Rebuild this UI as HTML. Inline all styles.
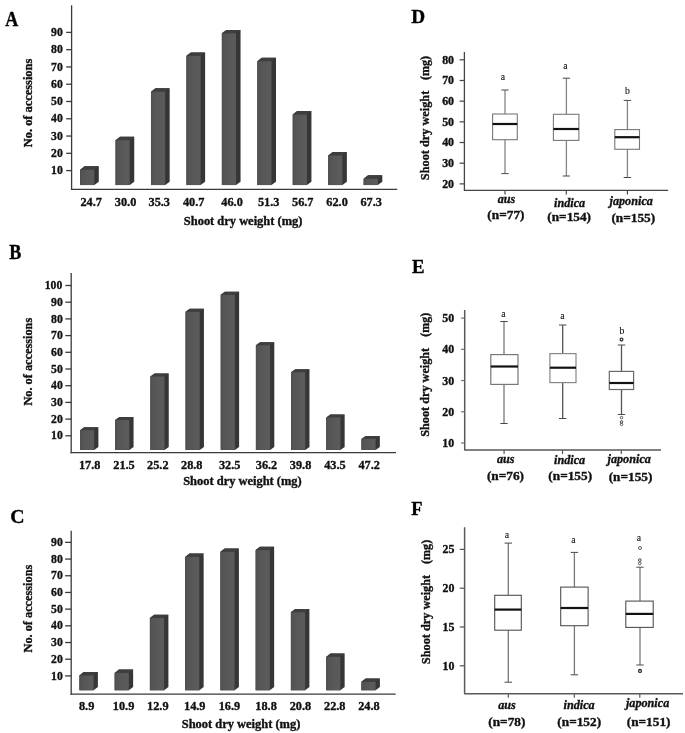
<!DOCTYPE html>
<html><head><meta charset="utf-8"><style>
html,body{margin:0;padding:0;background:#fff;width:685px;height:733px;overflow:hidden}
svg{display:block;will-change:transform}
</style></head><body>
<svg width="685" height="733" viewBox="0 0 685 733">
<defs><linearGradient id="fg" x1="0" y1="0" x2="1" y2="0"><stop offset="0" stop-color="#4f4f4f"/><stop offset="0.2" stop-color="#555"/><stop offset="0.5" stop-color="#585858"/><stop offset="0.85" stop-color="#5b5b5b"/><stop offset="1" stop-color="#595959"/></linearGradient></defs>
<rect width="685" height="733" fill="#fff"/>
<text x="0" y="0" transform="translate(5.37,25.70) scale(0.8735,1)" font-family="Liberation Serif" font-weight="bold" font-style="normal" font-size="20.61" fill="#000" stroke="#000" stroke-width="0.35" xml:space="preserve">A</text>
<line x1="71.60" y1="5.30" x2="71.60" y2="189.95" stroke="#3a3a3a" stroke-width="1.3"/>
<line x1="70.95" y1="189.30" x2="397.20" y2="189.30" stroke="#3a3a3a" stroke-width="1.3"/>
<line x1="66.20" y1="170.60" x2="71.60" y2="170.60" stroke="#3a3a3a" stroke-width="1.3"/>
<line x1="66.20" y1="153.32" x2="71.60" y2="153.32" stroke="#3a3a3a" stroke-width="1.3"/>
<line x1="66.20" y1="136.05" x2="71.60" y2="136.05" stroke="#3a3a3a" stroke-width="1.3"/>
<line x1="66.20" y1="118.78" x2="71.60" y2="118.78" stroke="#3a3a3a" stroke-width="1.3"/>
<line x1="66.20" y1="101.50" x2="71.60" y2="101.50" stroke="#3a3a3a" stroke-width="1.3"/>
<line x1="66.20" y1="84.22" x2="71.60" y2="84.22" stroke="#3a3a3a" stroke-width="1.3"/>
<line x1="66.20" y1="66.95" x2="71.60" y2="66.95" stroke="#3a3a3a" stroke-width="1.3"/>
<line x1="66.20" y1="49.68" x2="71.60" y2="49.68" stroke="#3a3a3a" stroke-width="1.3"/>
<line x1="66.20" y1="32.40" x2="71.60" y2="32.40" stroke="#3a3a3a" stroke-width="1.3"/>
<polygon points="80.10,169.70 84.60,166.30 98.80,166.30 98.80,181.70 94.30,185.10 80.10,185.10" fill="#363636"/>
<polygon points="80.10,169.70 84.60,166.30 98.80,166.30 94.30,169.70" fill="#3e3e3e"/>
<rect x="80.10" y="169.70" width="14.20" height="15.40" fill="url(#fg)"/>
<polygon points="115.54,140.20 120.04,136.80 134.24,136.80 134.24,181.70 129.74,185.10 115.54,185.10" fill="#363636"/>
<polygon points="115.54,140.20 120.04,136.80 134.24,136.80 129.74,140.20" fill="#3e3e3e"/>
<rect x="115.54" y="140.20" width="14.20" height="44.90" fill="url(#fg)"/>
<polygon points="150.98,91.70 155.48,88.30 169.68,88.30 169.68,181.70 165.18,185.10 150.98,185.10" fill="#363636"/>
<polygon points="150.98,91.70 155.48,88.30 169.68,88.30 165.18,91.70" fill="#3e3e3e"/>
<rect x="150.98" y="91.70" width="14.20" height="93.40" fill="url(#fg)"/>
<polygon points="186.42,55.80 190.92,52.40 205.12,52.40 205.12,181.70 200.62,185.10 186.42,185.10" fill="#363636"/>
<polygon points="186.42,55.80 190.92,52.40 205.12,52.40 200.62,55.80" fill="#3e3e3e"/>
<rect x="186.42" y="55.80" width="14.20" height="129.30" fill="url(#fg)"/>
<polygon points="221.86,33.30 226.36,29.90 240.56,29.90 240.56,181.70 236.06,185.10 221.86,185.10" fill="#363636"/>
<polygon points="221.86,33.30 226.36,29.90 240.56,29.90 236.06,33.30" fill="#3e3e3e"/>
<rect x="221.86" y="33.30" width="14.20" height="151.80" fill="url(#fg)"/>
<polygon points="257.30,61.20 261.80,57.80 276.00,57.80 276.00,181.70 271.50,185.10 257.30,185.10" fill="#363636"/>
<polygon points="257.30,61.20 261.80,57.80 276.00,57.80 271.50,61.20" fill="#3e3e3e"/>
<rect x="257.30" y="61.20" width="14.20" height="123.90" fill="url(#fg)"/>
<polygon points="292.74,114.50 297.24,111.10 311.44,111.10 311.44,181.70 306.94,185.10 292.74,185.10" fill="#363636"/>
<polygon points="292.74,114.50 297.24,111.10 311.44,111.10 306.94,114.50" fill="#3e3e3e"/>
<rect x="292.74" y="114.50" width="14.20" height="70.60" fill="url(#fg)"/>
<polygon points="328.18,155.50 332.68,152.10 346.88,152.10 346.88,181.70 342.38,185.10 328.18,185.10" fill="#363636"/>
<polygon points="328.18,155.50 332.68,152.10 346.88,152.10 342.38,155.50" fill="#3e3e3e"/>
<rect x="328.18" y="155.50" width="14.20" height="29.60" fill="url(#fg)"/>
<polygon points="363.62,178.70 368.12,175.30 382.32,175.30 382.32,181.70 377.82,185.10 363.62,185.10" fill="#363636"/>
<polygon points="363.62,178.70 368.12,175.30 382.32,175.30 377.82,178.70" fill="#3e3e3e"/>
<rect x="363.62" y="178.70" width="14.20" height="6.40" fill="url(#fg)"/>
<text x="0" y="0" transform="translate(51.12,174.23) scale(0.9000,1)" font-family="Liberation Serif" font-weight="bold" font-style="normal" font-size="13.00" fill="#111" stroke="#111" stroke-width="0.35" xml:space="preserve">10</text>
<text x="0" y="0" transform="translate(51.12,156.95) scale(0.9000,1)" font-family="Liberation Serif" font-weight="bold" font-style="normal" font-size="13.00" fill="#111" stroke="#111" stroke-width="0.35" xml:space="preserve">20</text>
<text x="0" y="0" transform="translate(51.12,139.68) scale(0.9000,1)" font-family="Liberation Serif" font-weight="bold" font-style="normal" font-size="13.00" fill="#111" stroke="#111" stroke-width="0.35" xml:space="preserve">30</text>
<text x="0" y="0" transform="translate(51.12,122.40) scale(0.9000,1)" font-family="Liberation Serif" font-weight="bold" font-style="normal" font-size="13.00" fill="#111" stroke="#111" stroke-width="0.35" xml:space="preserve">40</text>
<text x="0" y="0" transform="translate(51.12,105.12) scale(0.9000,1)" font-family="Liberation Serif" font-weight="bold" font-style="normal" font-size="13.00" fill="#111" stroke="#111" stroke-width="0.35" xml:space="preserve">50</text>
<text x="0" y="0" transform="translate(51.12,87.85) scale(0.9000,1)" font-family="Liberation Serif" font-weight="bold" font-style="normal" font-size="13.00" fill="#111" stroke="#111" stroke-width="0.35" xml:space="preserve">60</text>
<text x="0" y="0" transform="translate(51.12,70.58) scale(0.9000,1)" font-family="Liberation Serif" font-weight="bold" font-style="normal" font-size="13.00" fill="#111" stroke="#111" stroke-width="0.35" xml:space="preserve">70</text>
<text x="0" y="0" transform="translate(51.12,53.30) scale(0.9000,1)" font-family="Liberation Serif" font-weight="bold" font-style="normal" font-size="13.00" fill="#111" stroke="#111" stroke-width="0.35" xml:space="preserve">80</text>
<text x="0" y="0" transform="translate(51.12,36.03) scale(0.9000,1)" font-family="Liberation Serif" font-weight="bold" font-style="normal" font-size="13.00" fill="#111" stroke="#111" stroke-width="0.35" xml:space="preserve">90</text>
<text x="0" y="0" transform="translate(80.48,206.46) scale(0.9600,1)" font-family="Liberation Serif" font-weight="bold" font-style="normal" font-size="12.80" fill="#111" stroke="#111" stroke-width="0.35" xml:space="preserve">24.7</text>
<text x="0" y="0" transform="translate(114.85,206.46) scale(0.9600,1)" font-family="Liberation Serif" font-weight="bold" font-style="normal" font-size="12.80" fill="#111" stroke="#111" stroke-width="0.35" xml:space="preserve">30.0</text>
<text x="0" y="0" transform="translate(148.49,206.46) scale(0.9600,1)" font-family="Liberation Serif" font-weight="bold" font-style="normal" font-size="12.80" fill="#111" stroke="#111" stroke-width="0.35" xml:space="preserve">35.3</text>
<text x="0" y="0" transform="translate(182.91,206.46) scale(0.9600,1)" font-family="Liberation Serif" font-weight="bold" font-style="normal" font-size="12.80" fill="#111" stroke="#111" stroke-width="0.35" xml:space="preserve">40.7</text>
<text x="0" y="0" transform="translate(221.33,206.46) scale(0.9600,1)" font-family="Liberation Serif" font-weight="bold" font-style="normal" font-size="12.80" fill="#111" stroke="#111" stroke-width="0.35" xml:space="preserve">46.0</text>
<text x="0" y="0" transform="translate(257.89,206.46) scale(0.9600,1)" font-family="Liberation Serif" font-weight="bold" font-style="normal" font-size="12.80" fill="#111" stroke="#111" stroke-width="0.35" xml:space="preserve">51.3</text>
<text x="0" y="0" transform="translate(292.03,206.46) scale(0.9600,1)" font-family="Liberation Serif" font-weight="bold" font-style="normal" font-size="12.80" fill="#111" stroke="#111" stroke-width="0.35" xml:space="preserve">56.7</text>
<text x="0" y="0" transform="translate(326.31,206.46) scale(0.9600,1)" font-family="Liberation Serif" font-weight="bold" font-style="normal" font-size="12.80" fill="#111" stroke="#111" stroke-width="0.35" xml:space="preserve">62.0</text>
<text x="0" y="0" transform="translate(360.45,206.46) scale(0.9600,1)" font-family="Liberation Serif" font-weight="bold" font-style="normal" font-size="12.80" fill="#111" stroke="#111" stroke-width="0.35" xml:space="preserve">67.3</text>
<text x="0" y="0" transform="translate(183.81,224.75) scale(1.0300,1)" font-family="Liberation Serif" font-weight="bold" font-style="normal" font-size="12.10" fill="#111" stroke="#111" stroke-width="0.35" xml:space="preserve">Shoot dry weight (mg)</text>
<text x="0" y="0" transform="translate(32.49,147.20) rotate(-90) scale(1.0880,1)" font-family="Liberation Serif" font-weight="bold" font-style="normal" font-size="11.41" fill="#111" stroke="#111" stroke-width="0.35" xml:space="preserve">No. of accessions</text>
<text x="0" y="0" transform="translate(9.29,259.30) scale(0.8763,1)" font-family="Liberation Serif" font-weight="bold" font-style="normal" font-size="20.62" fill="#000" stroke="#000" stroke-width="0.35" xml:space="preserve">B</text>
<line x1="71.20" y1="273.00" x2="71.20" y2="453.25" stroke="#3a3a3a" stroke-width="1.3"/>
<line x1="70.55" y1="452.60" x2="396.00" y2="452.60" stroke="#3a3a3a" stroke-width="1.3"/>
<line x1="65.30" y1="435.80" x2="71.20" y2="435.80" stroke="#3a3a3a" stroke-width="1.3"/>
<line x1="65.30" y1="419.10" x2="71.20" y2="419.10" stroke="#3a3a3a" stroke-width="1.3"/>
<line x1="65.30" y1="402.40" x2="71.20" y2="402.40" stroke="#3a3a3a" stroke-width="1.3"/>
<line x1="65.30" y1="385.70" x2="71.20" y2="385.70" stroke="#3a3a3a" stroke-width="1.3"/>
<line x1="65.30" y1="369.00" x2="71.20" y2="369.00" stroke="#3a3a3a" stroke-width="1.3"/>
<line x1="65.30" y1="352.30" x2="71.20" y2="352.30" stroke="#3a3a3a" stroke-width="1.3"/>
<line x1="65.30" y1="335.60" x2="71.20" y2="335.60" stroke="#3a3a3a" stroke-width="1.3"/>
<line x1="65.30" y1="318.90" x2="71.20" y2="318.90" stroke="#3a3a3a" stroke-width="1.3"/>
<line x1="65.30" y1="302.20" x2="71.20" y2="302.20" stroke="#3a3a3a" stroke-width="1.3"/>
<line x1="65.30" y1="285.50" x2="71.20" y2="285.50" stroke="#3a3a3a" stroke-width="1.3"/>
<polygon points="80.00,430.20 84.20,427.20 98.40,427.20 98.40,446.90 94.20,449.90 80.00,449.90" fill="#363636"/>
<polygon points="80.00,430.20 84.20,427.20 98.40,427.20 94.20,430.20" fill="#3e3e3e"/>
<rect x="80.00" y="430.20" width="14.20" height="19.70" fill="url(#fg)"/>
<polygon points="115.18,420.00 119.38,417.00 133.58,417.00 133.58,446.90 129.38,449.90 115.18,449.90" fill="#363636"/>
<polygon points="115.18,420.00 119.38,417.00 133.58,417.00 129.38,420.00" fill="#3e3e3e"/>
<rect x="115.18" y="420.00" width="14.20" height="29.90" fill="url(#fg)"/>
<polygon points="150.36,376.50 154.56,373.50 168.76,373.50 168.76,446.90 164.56,449.90 150.36,449.90" fill="#363636"/>
<polygon points="150.36,376.50 154.56,373.50 168.76,373.50 164.56,376.50" fill="#3e3e3e"/>
<rect x="150.36" y="376.50" width="14.20" height="73.40" fill="url(#fg)"/>
<polygon points="185.54,311.80 189.74,308.80 203.94,308.80 203.94,446.90 199.74,449.90 185.54,449.90" fill="#363636"/>
<polygon points="185.54,311.80 189.74,308.80 203.94,308.80 199.74,311.80" fill="#3e3e3e"/>
<rect x="185.54" y="311.80" width="14.20" height="138.10" fill="url(#fg)"/>
<polygon points="220.72,294.80 224.92,291.80 239.12,291.80 239.12,446.90 234.92,449.90 220.72,449.90" fill="#363636"/>
<polygon points="220.72,294.80 224.92,291.80 239.12,291.80 234.92,294.80" fill="#3e3e3e"/>
<rect x="220.72" y="294.80" width="14.20" height="155.10" fill="url(#fg)"/>
<polygon points="255.90,345.30 260.10,342.30 274.30,342.30 274.30,446.90 270.10,449.90 255.90,449.90" fill="#363636"/>
<polygon points="255.90,345.30 260.10,342.30 274.30,342.30 270.10,345.30" fill="#3e3e3e"/>
<rect x="255.90" y="345.30" width="14.20" height="104.60" fill="url(#fg)"/>
<polygon points="291.08,372.20 295.28,369.20 309.48,369.20 309.48,446.90 305.28,449.90 291.08,449.90" fill="#363636"/>
<polygon points="291.08,372.20 295.28,369.20 309.48,369.20 305.28,372.20" fill="#3e3e3e"/>
<rect x="291.08" y="372.20" width="14.20" height="77.70" fill="url(#fg)"/>
<polygon points="326.26,417.40 330.46,414.40 344.66,414.40 344.66,446.90 340.46,449.90 326.26,449.90" fill="#363636"/>
<polygon points="326.26,417.40 330.46,414.40 344.66,414.40 340.46,417.40" fill="#3e3e3e"/>
<rect x="326.26" y="417.40" width="14.20" height="32.50" fill="url(#fg)"/>
<polygon points="361.44,438.90 365.64,435.90 379.84,435.90 379.84,446.90 375.64,449.90 361.44,449.90" fill="#363636"/>
<polygon points="361.44,438.90 365.64,435.90 379.84,435.90 375.64,438.90" fill="#3e3e3e"/>
<rect x="361.44" y="438.90" width="14.20" height="11.00" fill="url(#fg)"/>
<text x="0" y="0" transform="translate(51.12,439.43) scale(0.9000,1)" font-family="Liberation Serif" font-weight="bold" font-style="normal" font-size="13.00" fill="#111" stroke="#111" stroke-width="0.35" xml:space="preserve">10</text>
<text x="0" y="0" transform="translate(51.12,422.72) scale(0.9000,1)" font-family="Liberation Serif" font-weight="bold" font-style="normal" font-size="13.00" fill="#111" stroke="#111" stroke-width="0.35" xml:space="preserve">20</text>
<text x="0" y="0" transform="translate(51.12,406.03) scale(0.9000,1)" font-family="Liberation Serif" font-weight="bold" font-style="normal" font-size="13.00" fill="#111" stroke="#111" stroke-width="0.35" xml:space="preserve">30</text>
<text x="0" y="0" transform="translate(51.12,389.32) scale(0.9000,1)" font-family="Liberation Serif" font-weight="bold" font-style="normal" font-size="13.00" fill="#111" stroke="#111" stroke-width="0.35" xml:space="preserve">40</text>
<text x="0" y="0" transform="translate(51.12,372.62) scale(0.9000,1)" font-family="Liberation Serif" font-weight="bold" font-style="normal" font-size="13.00" fill="#111" stroke="#111" stroke-width="0.35" xml:space="preserve">50</text>
<text x="0" y="0" transform="translate(51.12,355.93) scale(0.9000,1)" font-family="Liberation Serif" font-weight="bold" font-style="normal" font-size="13.00" fill="#111" stroke="#111" stroke-width="0.35" xml:space="preserve">60</text>
<text x="0" y="0" transform="translate(51.12,339.22) scale(0.9000,1)" font-family="Liberation Serif" font-weight="bold" font-style="normal" font-size="13.00" fill="#111" stroke="#111" stroke-width="0.35" xml:space="preserve">70</text>
<text x="0" y="0" transform="translate(51.12,322.53) scale(0.9000,1)" font-family="Liberation Serif" font-weight="bold" font-style="normal" font-size="13.00" fill="#111" stroke="#111" stroke-width="0.35" xml:space="preserve">80</text>
<text x="0" y="0" transform="translate(51.12,305.82) scale(0.9000,1)" font-family="Liberation Serif" font-weight="bold" font-style="normal" font-size="13.00" fill="#111" stroke="#111" stroke-width="0.35" xml:space="preserve">90</text>
<text x="0" y="0" transform="translate(44.77,289.12) scale(0.9000,1)" font-family="Liberation Serif" font-weight="bold" font-style="normal" font-size="13.00" fill="#111" stroke="#111" stroke-width="0.35" xml:space="preserve">100</text>
<text x="0" y="0" transform="translate(78.94,468.51) scale(0.9600,1)" font-family="Liberation Serif" font-weight="bold" font-style="normal" font-size="12.80" fill="#111" stroke="#111" stroke-width="0.35" xml:space="preserve">17.8</text>
<text x="0" y="0" transform="translate(113.25,468.51) scale(0.9600,1)" font-family="Liberation Serif" font-weight="bold" font-style="normal" font-size="12.80" fill="#111" stroke="#111" stroke-width="0.35" xml:space="preserve">21.5</text>
<text x="0" y="0" transform="translate(147.05,468.51) scale(0.9600,1)" font-family="Liberation Serif" font-weight="bold" font-style="normal" font-size="12.80" fill="#111" stroke="#111" stroke-width="0.35" xml:space="preserve">25.2</text>
<text x="0" y="0" transform="translate(180.99,468.51) scale(0.9600,1)" font-family="Liberation Serif" font-weight="bold" font-style="normal" font-size="12.80" fill="#111" stroke="#111" stroke-width="0.35" xml:space="preserve">28.8</text>
<text x="0" y="0" transform="translate(218.95,468.51) scale(0.9600,1)" font-family="Liberation Serif" font-weight="bold" font-style="normal" font-size="12.80" fill="#111" stroke="#111" stroke-width="0.35" xml:space="preserve">32.5</text>
<text x="0" y="0" transform="translate(255.75,468.51) scale(0.9600,1)" font-family="Liberation Serif" font-weight="bold" font-style="normal" font-size="12.80" fill="#111" stroke="#111" stroke-width="0.35" xml:space="preserve">36.2</text>
<text x="0" y="0" transform="translate(289.79,468.51) scale(0.9600,1)" font-family="Liberation Serif" font-weight="bold" font-style="normal" font-size="12.80" fill="#111" stroke="#111" stroke-width="0.35" xml:space="preserve">39.8</text>
<text x="0" y="0" transform="translate(324.23,468.51) scale(0.9600,1)" font-family="Liberation Serif" font-weight="bold" font-style="normal" font-size="12.80" fill="#111" stroke="#111" stroke-width="0.35" xml:space="preserve">43.5</text>
<text x="0" y="0" transform="translate(358.43,468.51) scale(0.9600,1)" font-family="Liberation Serif" font-weight="bold" font-style="normal" font-size="12.80" fill="#111" stroke="#111" stroke-width="0.35" xml:space="preserve">47.2</text>
<text x="0" y="0" transform="translate(183.16,484.80) scale(1.0300,1)" font-family="Liberation Serif" font-weight="bold" font-style="normal" font-size="12.10" fill="#111" stroke="#111" stroke-width="0.35" xml:space="preserve">Shoot dry weight (mg)</text>
<text x="0" y="0" transform="translate(31.58,405.60) rotate(-90) scale(1.0297,1)" font-family="Liberation Serif" font-weight="bold" font-style="normal" font-size="11.97" fill="#111" stroke="#111" stroke-width="0.35" xml:space="preserve">No. of accessions</text>
<text x="0" y="0" transform="translate(10.36,522.51) scale(1.0222,1)" font-family="Liberation Serif" font-weight="bold" font-style="normal" font-size="19.40" fill="#000" stroke="#000" stroke-width="0.35" xml:space="preserve">C</text>
<line x1="71.20" y1="530.70" x2="71.20" y2="694.85" stroke="#3a3a3a" stroke-width="1.3"/>
<line x1="70.55" y1="694.20" x2="395.70" y2="694.20" stroke="#3a3a3a" stroke-width="1.3"/>
<line x1="65.10" y1="675.90" x2="71.20" y2="675.90" stroke="#3a3a3a" stroke-width="1.3"/>
<line x1="65.10" y1="659.21" x2="71.20" y2="659.21" stroke="#3a3a3a" stroke-width="1.3"/>
<line x1="65.10" y1="642.52" x2="71.20" y2="642.52" stroke="#3a3a3a" stroke-width="1.3"/>
<line x1="65.10" y1="625.83" x2="71.20" y2="625.83" stroke="#3a3a3a" stroke-width="1.3"/>
<line x1="65.10" y1="609.14" x2="71.20" y2="609.14" stroke="#3a3a3a" stroke-width="1.3"/>
<line x1="65.10" y1="592.45" x2="71.20" y2="592.45" stroke="#3a3a3a" stroke-width="1.3"/>
<line x1="65.10" y1="575.76" x2="71.20" y2="575.76" stroke="#3a3a3a" stroke-width="1.3"/>
<line x1="65.10" y1="559.07" x2="71.20" y2="559.07" stroke="#3a3a3a" stroke-width="1.3"/>
<line x1="65.10" y1="542.38" x2="71.20" y2="542.38" stroke="#3a3a3a" stroke-width="1.3"/>
<polygon points="79.40,675.40 83.70,672.00 97.90,672.00 97.90,686.90 93.60,690.30 79.40,690.30" fill="#363636"/>
<polygon points="79.40,675.40 83.70,672.00 97.90,672.00 93.60,675.40" fill="#3e3e3e"/>
<rect x="79.40" y="675.40" width="14.20" height="14.90" fill="url(#fg)"/>
<polygon points="114.65,673.00 118.95,669.60 133.15,669.60 133.15,686.90 128.85,690.30 114.65,690.30" fill="#363636"/>
<polygon points="114.65,673.00 118.95,669.60 133.15,669.60 128.85,673.00" fill="#3e3e3e"/>
<rect x="114.65" y="673.00" width="14.20" height="17.30" fill="url(#fg)"/>
<polygon points="149.90,618.10 154.20,614.70 168.40,614.70 168.40,686.90 164.10,690.30 149.90,690.30" fill="#363636"/>
<polygon points="149.90,618.10 154.20,614.70 168.40,614.70 164.10,618.10" fill="#3e3e3e"/>
<rect x="149.90" y="618.10" width="14.20" height="72.20" fill="url(#fg)"/>
<polygon points="185.15,556.90 189.45,553.50 203.65,553.50 203.65,686.90 199.35,690.30 185.15,690.30" fill="#363636"/>
<polygon points="185.15,556.90 189.45,553.50 203.65,553.50 199.35,556.90" fill="#3e3e3e"/>
<rect x="185.15" y="556.90" width="14.20" height="133.40" fill="url(#fg)"/>
<polygon points="220.40,551.80 224.70,548.40 238.90,548.40 238.90,686.90 234.60,690.30 220.40,690.30" fill="#363636"/>
<polygon points="220.40,551.80 224.70,548.40 238.90,548.40 234.60,551.80" fill="#3e3e3e"/>
<rect x="220.40" y="551.80" width="14.20" height="138.50" fill="url(#fg)"/>
<polygon points="255.65,550.10 259.95,546.70 274.15,546.70 274.15,686.90 269.85,690.30 255.65,690.30" fill="#363636"/>
<polygon points="255.65,550.10 259.95,546.70 274.15,546.70 269.85,550.10" fill="#3e3e3e"/>
<rect x="255.65" y="550.10" width="14.20" height="140.20" fill="url(#fg)"/>
<polygon points="290.90,612.30 295.20,608.90 309.40,608.90 309.40,686.90 305.10,690.30 290.90,690.30" fill="#363636"/>
<polygon points="290.90,612.30 295.20,608.90 309.40,608.90 305.10,612.30" fill="#3e3e3e"/>
<rect x="290.90" y="612.30" width="14.20" height="78.00" fill="url(#fg)"/>
<polygon points="326.15,656.90 330.45,653.50 344.65,653.50 344.65,686.90 340.35,690.30 326.15,690.30" fill="#363636"/>
<polygon points="326.15,656.90 330.45,653.50 344.65,653.50 340.35,656.90" fill="#3e3e3e"/>
<rect x="326.15" y="656.90" width="14.20" height="33.40" fill="url(#fg)"/>
<polygon points="361.40,681.80 365.70,678.40 379.90,678.40 379.90,686.90 375.60,690.30 361.40,690.30" fill="#363636"/>
<polygon points="361.40,681.80 365.70,678.40 379.90,678.40 375.60,681.80" fill="#3e3e3e"/>
<rect x="361.40" y="681.80" width="14.20" height="8.50" fill="url(#fg)"/>
<text x="0" y="0" transform="translate(51.12,679.52) scale(0.9000,1)" font-family="Liberation Serif" font-weight="bold" font-style="normal" font-size="13.00" fill="#111" stroke="#111" stroke-width="0.35" xml:space="preserve">10</text>
<text x="0" y="0" transform="translate(51.12,662.83) scale(0.9000,1)" font-family="Liberation Serif" font-weight="bold" font-style="normal" font-size="13.00" fill="#111" stroke="#111" stroke-width="0.35" xml:space="preserve">20</text>
<text x="0" y="0" transform="translate(51.12,646.15) scale(0.9000,1)" font-family="Liberation Serif" font-weight="bold" font-style="normal" font-size="13.00" fill="#111" stroke="#111" stroke-width="0.35" xml:space="preserve">30</text>
<text x="0" y="0" transform="translate(51.12,629.46) scale(0.9000,1)" font-family="Liberation Serif" font-weight="bold" font-style="normal" font-size="13.00" fill="#111" stroke="#111" stroke-width="0.35" xml:space="preserve">40</text>
<text x="0" y="0" transform="translate(51.12,612.76) scale(0.9000,1)" font-family="Liberation Serif" font-weight="bold" font-style="normal" font-size="13.00" fill="#111" stroke="#111" stroke-width="0.35" xml:space="preserve">50</text>
<text x="0" y="0" transform="translate(51.12,596.07) scale(0.9000,1)" font-family="Liberation Serif" font-weight="bold" font-style="normal" font-size="13.00" fill="#111" stroke="#111" stroke-width="0.35" xml:space="preserve">60</text>
<text x="0" y="0" transform="translate(51.12,579.39) scale(0.9000,1)" font-family="Liberation Serif" font-weight="bold" font-style="normal" font-size="13.00" fill="#111" stroke="#111" stroke-width="0.35" xml:space="preserve">70</text>
<text x="0" y="0" transform="translate(51.12,562.70) scale(0.9000,1)" font-family="Liberation Serif" font-weight="bold" font-style="normal" font-size="13.00" fill="#111" stroke="#111" stroke-width="0.35" xml:space="preserve">80</text>
<text x="0" y="0" transform="translate(51.12,546.00) scale(0.9000,1)" font-family="Liberation Serif" font-weight="bold" font-style="normal" font-size="13.00" fill="#111" stroke="#111" stroke-width="0.35" xml:space="preserve">90</text>
<text x="0" y="0" transform="translate(78.93,710.06) scale(0.9600,1)" font-family="Liberation Serif" font-weight="bold" font-style="normal" font-size="12.80" fill="#111" stroke="#111" stroke-width="0.35" xml:space="preserve">8.9</text>
<text x="0" y="0" transform="translate(112.85,710.06) scale(0.9600,1)" font-family="Liberation Serif" font-weight="bold" font-style="normal" font-size="12.80" fill="#111" stroke="#111" stroke-width="0.35" xml:space="preserve">10.9</text>
<text x="0" y="0" transform="translate(147.10,710.06) scale(0.9600,1)" font-family="Liberation Serif" font-weight="bold" font-style="normal" font-size="12.80" fill="#111" stroke="#111" stroke-width="0.35" xml:space="preserve">12.9</text>
<text x="0" y="0" transform="translate(184.00,710.06) scale(0.9600,1)" font-family="Liberation Serif" font-weight="bold" font-style="normal" font-size="12.80" fill="#111" stroke="#111" stroke-width="0.35" xml:space="preserve">14.9</text>
<text x="0" y="0" transform="translate(218.70,710.06) scale(0.9600,1)" font-family="Liberation Serif" font-weight="bold" font-style="normal" font-size="12.80" fill="#111" stroke="#111" stroke-width="0.35" xml:space="preserve">16.9</text>
<text x="0" y="0" transform="translate(255.34,710.06) scale(0.9600,1)" font-family="Liberation Serif" font-weight="bold" font-style="normal" font-size="12.80" fill="#111" stroke="#111" stroke-width="0.35" xml:space="preserve">18.8</text>
<text x="0" y="0" transform="translate(289.69,710.06) scale(0.9600,1)" font-family="Liberation Serif" font-weight="bold" font-style="normal" font-size="12.80" fill="#111" stroke="#111" stroke-width="0.35" xml:space="preserve">20.8</text>
<text x="0" y="0" transform="translate(323.99,710.06) scale(0.9600,1)" font-family="Liberation Serif" font-weight="bold" font-style="normal" font-size="12.80" fill="#111" stroke="#111" stroke-width="0.35" xml:space="preserve">22.8</text>
<text x="0" y="0" transform="translate(358.19,710.06) scale(0.9600,1)" font-family="Liberation Serif" font-weight="bold" font-style="normal" font-size="12.80" fill="#111" stroke="#111" stroke-width="0.35" xml:space="preserve">24.8</text>
<text x="0" y="0" transform="translate(181.76,728.20) scale(1.0300,1)" font-family="Liberation Serif" font-weight="bold" font-style="normal" font-size="12.10" fill="#111" stroke="#111" stroke-width="0.35" xml:space="preserve">Shoot dry weight (mg)</text>
<text x="0" y="0" transform="translate(31.58,652.50) rotate(-90) scale(1.0049,1)" font-family="Liberation Serif" font-weight="bold" font-style="normal" font-size="12.25" fill="#111" stroke="#111" stroke-width="0.35" xml:space="preserve">No. of accessions</text>
<text x="0" y="0" transform="translate(411.17,22.70) scale(0.9843,1)" font-family="Liberation Serif" font-weight="bold" font-style="normal" font-size="19.54" fill="#000" stroke="#000" stroke-width="0.35" xml:space="preserve">D</text>
<polyline points="464.40,52.00 464.40,190.40 668.20,190.40" fill="none" stroke="#454545" stroke-width="1.3" stroke-linejoin="round"/>
<line x1="459.60" y1="59.80" x2="464.40" y2="59.80" stroke="#454545" stroke-width="1.2"/>
<text x="0" y="0" transform="translate(442.13,63.77) scale(1.0000,1)" font-family="Liberation Serif" font-weight="bold" font-style="normal" font-size="11.90" fill="#111" stroke="#111" stroke-width="0.35" xml:space="preserve">80</text>
<line x1="459.60" y1="80.48" x2="464.40" y2="80.48" stroke="#454545" stroke-width="1.2"/>
<text x="0" y="0" transform="translate(442.13,84.45) scale(1.0000,1)" font-family="Liberation Serif" font-weight="bold" font-style="normal" font-size="11.90" fill="#111" stroke="#111" stroke-width="0.35" xml:space="preserve">70</text>
<line x1="459.60" y1="101.16" x2="464.40" y2="101.16" stroke="#454545" stroke-width="1.2"/>
<text x="0" y="0" transform="translate(442.13,105.13) scale(1.0000,1)" font-family="Liberation Serif" font-weight="bold" font-style="normal" font-size="11.90" fill="#111" stroke="#111" stroke-width="0.35" xml:space="preserve">60</text>
<line x1="459.60" y1="121.84" x2="464.40" y2="121.84" stroke="#454545" stroke-width="1.2"/>
<text x="0" y="0" transform="translate(442.13,125.81) scale(1.0000,1)" font-family="Liberation Serif" font-weight="bold" font-style="normal" font-size="11.90" fill="#111" stroke="#111" stroke-width="0.35" xml:space="preserve">50</text>
<line x1="459.60" y1="142.52" x2="464.40" y2="142.52" stroke="#454545" stroke-width="1.2"/>
<text x="0" y="0" transform="translate(442.13,146.49) scale(1.0000,1)" font-family="Liberation Serif" font-weight="bold" font-style="normal" font-size="11.90" fill="#111" stroke="#111" stroke-width="0.35" xml:space="preserve">40</text>
<line x1="459.60" y1="163.20" x2="464.40" y2="163.20" stroke="#454545" stroke-width="1.2"/>
<text x="0" y="0" transform="translate(442.13,167.17) scale(1.0000,1)" font-family="Liberation Serif" font-weight="bold" font-style="normal" font-size="11.90" fill="#111" stroke="#111" stroke-width="0.35" xml:space="preserve">30</text>
<line x1="459.60" y1="183.88" x2="464.40" y2="183.88" stroke="#454545" stroke-width="1.2"/>
<text x="0" y="0" transform="translate(442.13,187.85) scale(1.0000,1)" font-family="Liberation Serif" font-weight="bold" font-style="normal" font-size="11.90" fill="#111" stroke="#111" stroke-width="0.35" xml:space="preserve">20</text>
<line x1="505.00" y1="190.40" x2="505.00" y2="194.40" stroke="#454545" stroke-width="1.2"/>
<line x1="566.30" y1="190.40" x2="566.30" y2="194.40" stroke="#454545" stroke-width="1.2"/>
<line x1="627.40" y1="190.40" x2="627.40" y2="194.40" stroke="#454545" stroke-width="1.2"/>
<line x1="505.00" y1="90.00" x2="505.00" y2="114.00" stroke="#858585" stroke-width="1.3"/>
<line x1="505.00" y1="139.70" x2="505.00" y2="173.60" stroke="#858585" stroke-width="1.3"/>
<line x1="501.30" y1="90.00" x2="508.70" y2="90.00" stroke="#4a4a4a" stroke-width="1.0"/>
<line x1="501.30" y1="173.60" x2="508.70" y2="173.60" stroke="#4a4a4a" stroke-width="1.0"/>
<rect x="492.60" y="114.00" width="24.70" height="25.70" fill="#fff" stroke="#787878" stroke-width="1.1"/>
<line x1="492.60" y1="124.00" x2="517.30" y2="124.00" stroke="#111" stroke-width="2.2"/>
<line x1="566.40" y1="78.20" x2="566.40" y2="114.30" stroke="#858585" stroke-width="1.3"/>
<line x1="566.40" y1="140.40" x2="566.40" y2="176.00" stroke="#858585" stroke-width="1.3"/>
<line x1="562.70" y1="78.20" x2="570.10" y2="78.20" stroke="#4a4a4a" stroke-width="1.0"/>
<line x1="562.70" y1="176.00" x2="570.10" y2="176.00" stroke="#4a4a4a" stroke-width="1.0"/>
<rect x="553.40" y="114.30" width="25.50" height="26.10" fill="#fff" stroke="#787878" stroke-width="1.1"/>
<line x1="553.40" y1="129.00" x2="578.90" y2="129.00" stroke="#111" stroke-width="2.2"/>
<line x1="627.40" y1="100.40" x2="627.40" y2="129.60" stroke="#858585" stroke-width="1.3"/>
<line x1="627.40" y1="149.30" x2="627.40" y2="177.50" stroke="#858585" stroke-width="1.3"/>
<line x1="623.70" y1="100.40" x2="631.10" y2="100.40" stroke="#4a4a4a" stroke-width="1.0"/>
<line x1="623.70" y1="177.50" x2="631.10" y2="177.50" stroke="#4a4a4a" stroke-width="1.0"/>
<rect x="614.80" y="129.60" width="24.70" height="19.70" fill="#fff" stroke="#787878" stroke-width="1.1"/>
<line x1="614.80" y1="137.20" x2="639.50" y2="137.20" stroke="#111" stroke-width="2.2"/>
<text x="0" y="0" transform="translate(500.81,79.89) scale(0.9200,1)" font-family="Liberation Serif" font-weight="normal" font-style="normal" font-size="10.60" fill="#111" stroke="#111" stroke-width="0.12" xml:space="preserve">a</text>
<text x="0" y="0" transform="translate(563.36,69.39) scale(0.9200,1)" font-family="Liberation Serif" font-weight="normal" font-style="normal" font-size="10.60" fill="#111" stroke="#111" stroke-width="0.12" xml:space="preserve">a</text>
<text x="0" y="0" transform="translate(625.11,93.50) scale(0.9200,1)" font-family="Liberation Serif" font-weight="normal" font-style="normal" font-size="10.60" fill="#111" stroke="#111" stroke-width="0.12" xml:space="preserve">b</text>
<text x="0" y="0" transform="translate(429.19,79.93) rotate(-90) scale(0.9775,1)" font-family="Liberation Serif" font-weight="bold" font-style="normal" font-size="12.31" fill="#111" stroke="#111" stroke-width="0.35" xml:space="preserve">(mg)</text>
<text x="0" y="0" transform="translate(429.07,180.16) rotate(-90) scale(0.9923,1)" font-family="Liberation Serif" font-weight="bold" font-style="normal" font-size="12.39" fill="#111" stroke="#111" stroke-width="0.35" xml:space="preserve">Shoot dry weight</text>
<text x="0" y="0" transform="translate(497.73,203.41) scale(1.0000,1)" font-family="Liberation Serif" font-weight="bold" font-style="italic" font-size="12.20" fill="#111" stroke="#111" stroke-width="0.35" xml:space="preserve">aus</text>
<text x="0" y="0" transform="translate(554.02,207.20) scale(1.0000,1)" font-family="Liberation Serif" font-weight="bold" font-style="italic" font-size="12.20" fill="#111" stroke="#111" stroke-width="0.35" xml:space="preserve">indica</text>
<text x="0" y="0" transform="translate(609.55,205.12) scale(1.0000,1)" font-family="Liberation Serif" font-weight="bold" font-style="italic" font-size="12.20" fill="#111" stroke="#111" stroke-width="0.35" xml:space="preserve">japonica</text>
<text x="0" y="0" transform="translate(487.37,219.45) scale(1.0800,1)" font-family="Liberation Serif" font-weight="bold" font-style="normal" font-size="12.30" fill="#111" stroke="#111" stroke-width="0.35" xml:space="preserve">(n=77)</text>
<text x="0" y="0" transform="translate(547.30,220.80) scale(1.0800,1)" font-family="Liberation Serif" font-weight="bold" font-style="normal" font-size="12.30" fill="#111" stroke="#111" stroke-width="0.35" xml:space="preserve">(n=154)</text>
<text x="0" y="0" transform="translate(611.45,222.10) scale(1.0800,1)" font-family="Liberation Serif" font-weight="bold" font-style="normal" font-size="12.30" fill="#111" stroke="#111" stroke-width="0.35" xml:space="preserve">(n=155)</text>
<text x="0" y="0" transform="translate(411.97,272.80) scale(0.9490,1)" font-family="Liberation Serif" font-weight="bold" font-style="normal" font-size="19.85" fill="#000" stroke="#000" stroke-width="0.35" xml:space="preserve">E</text>
<polyline points="464.70,309.90 464.70,450.00 661.00,450.00" fill="none" stroke="#585858" stroke-width="1.5" stroke-linejoin="round"/>
<line x1="461.10" y1="318.10" x2="464.70" y2="318.10" stroke="#707070" stroke-width="1.2"/>
<text x="0" y="0" transform="translate(442.33,322.07) scale(1.0000,1)" font-family="Liberation Serif" font-weight="bold" font-style="normal" font-size="11.90" fill="#111" stroke="#111" stroke-width="0.35" xml:space="preserve">50</text>
<line x1="461.10" y1="349.32" x2="464.70" y2="349.32" stroke="#707070" stroke-width="1.2"/>
<text x="0" y="0" transform="translate(442.33,353.29) scale(1.0000,1)" font-family="Liberation Serif" font-weight="bold" font-style="normal" font-size="11.90" fill="#111" stroke="#111" stroke-width="0.35" xml:space="preserve">40</text>
<line x1="461.10" y1="380.54" x2="464.70" y2="380.54" stroke="#707070" stroke-width="1.2"/>
<text x="0" y="0" transform="translate(442.33,384.51) scale(1.0000,1)" font-family="Liberation Serif" font-weight="bold" font-style="normal" font-size="11.90" fill="#111" stroke="#111" stroke-width="0.35" xml:space="preserve">30</text>
<line x1="461.10" y1="411.76" x2="464.70" y2="411.76" stroke="#707070" stroke-width="1.2"/>
<text x="0" y="0" transform="translate(442.33,415.73) scale(1.0000,1)" font-family="Liberation Serif" font-weight="bold" font-style="normal" font-size="11.90" fill="#111" stroke="#111" stroke-width="0.35" xml:space="preserve">20</text>
<line x1="461.10" y1="442.98" x2="464.70" y2="442.98" stroke="#707070" stroke-width="1.2"/>
<text x="0" y="0" transform="translate(442.33,446.95) scale(1.0000,1)" font-family="Liberation Serif" font-weight="bold" font-style="normal" font-size="11.90" fill="#111" stroke="#111" stroke-width="0.35" xml:space="preserve">10</text>
<line x1="504.10" y1="450.00" x2="504.10" y2="454.00" stroke="#585858" stroke-width="1.2"/>
<line x1="562.50" y1="450.00" x2="562.50" y2="454.00" stroke="#585858" stroke-width="1.2"/>
<line x1="621.30" y1="450.00" x2="621.30" y2="454.00" stroke="#585858" stroke-width="1.2"/>
<line x1="504.00" y1="321.50" x2="504.00" y2="354.60" stroke="#787878" stroke-width="1.3"/>
<line x1="504.00" y1="384.40" x2="504.00" y2="423.50" stroke="#787878" stroke-width="1.3"/>
<line x1="500.30" y1="321.50" x2="507.70" y2="321.50" stroke="#4a4a4a" stroke-width="1.0"/>
<line x1="500.30" y1="423.50" x2="507.70" y2="423.50" stroke="#4a4a4a" stroke-width="1.0"/>
<rect x="490.80" y="354.60" width="27.20" height="29.80" fill="#fff" stroke="#777" stroke-width="1.2"/>
<line x1="490.80" y1="366.50" x2="518.00" y2="366.50" stroke="#111" stroke-width="2.2"/>
<line x1="562.70" y1="325.00" x2="562.70" y2="353.60" stroke="#555" stroke-width="1.3"/>
<line x1="562.70" y1="382.60" x2="562.70" y2="418.50" stroke="#555" stroke-width="1.3"/>
<line x1="559.00" y1="325.00" x2="566.40" y2="325.00" stroke="#4a4a4a" stroke-width="1.0"/>
<line x1="559.00" y1="418.50" x2="566.40" y2="418.50" stroke="#4a4a4a" stroke-width="1.0"/>
<rect x="549.90" y="353.60" width="26.10" height="29.00" fill="#fff" stroke="#888" stroke-width="1.2"/>
<line x1="549.90" y1="367.70" x2="576.00" y2="367.70" stroke="#111" stroke-width="2.2"/>
<line x1="621.50" y1="345.00" x2="621.50" y2="371.40" stroke="#555" stroke-width="1.3"/>
<line x1="621.50" y1="389.50" x2="621.50" y2="414.50" stroke="#555" stroke-width="1.3"/>
<line x1="617.80" y1="345.00" x2="625.20" y2="345.00" stroke="#4a4a4a" stroke-width="1.0"/>
<line x1="617.80" y1="414.50" x2="625.20" y2="414.50" stroke="#4a4a4a" stroke-width="1.0"/>
<rect x="609.30" y="371.40" width="24.30" height="18.10" fill="#fff" stroke="#6a6a6a" stroke-width="1.2"/>
<line x1="609.30" y1="383.00" x2="633.60" y2="383.00" stroke="#111" stroke-width="2.2"/>
<circle cx="621.50" cy="339.60" r="1.40" fill="none" stroke="#3a3a3a" stroke-width="1.3"/>
<circle cx="621.50" cy="417.60" r="1.25" fill="none" stroke="#4a4a4a" stroke-width="0.9"/>
<circle cx="621.50" cy="421.90" r="1.25" fill="none" stroke="#444" stroke-width="1.0"/>
<circle cx="621.50" cy="424.40" r="1.25" fill="none" stroke="#4a4a4a" stroke-width="0.9"/>
<text x="0" y="0" transform="translate(501.26,316.79) scale(0.9200,1)" font-family="Liberation Serif" font-weight="normal" font-style="normal" font-size="10.60" fill="#111" stroke="#111" stroke-width="0.12" xml:space="preserve">a</text>
<text x="0" y="0" transform="translate(560.16,319.39) scale(0.9200,1)" font-family="Liberation Serif" font-weight="normal" font-style="normal" font-size="10.60" fill="#111" stroke="#111" stroke-width="0.12" xml:space="preserve">a</text>
<text x="0" y="0" transform="translate(619.61,334.10) scale(0.9200,1)" font-family="Liberation Serif" font-weight="normal" font-style="normal" font-size="10.60" fill="#111" stroke="#111" stroke-width="0.12" xml:space="preserve">b</text>
<text x="0" y="0" transform="translate(429.39,336.63) rotate(-90) scale(0.9691,1)" font-family="Liberation Serif" font-weight="bold" font-style="normal" font-size="12.31" fill="#111" stroke="#111" stroke-width="0.35" xml:space="preserve">(mg)</text>
<text x="0" y="0" transform="translate(429.27,436.76) rotate(-90) scale(0.9878,1)" font-family="Liberation Serif" font-weight="bold" font-style="normal" font-size="12.39" fill="#111" stroke="#111" stroke-width="0.35" xml:space="preserve">Shoot dry weight</text>
<text x="0" y="0" transform="translate(496.88,462.96) scale(1.0000,1)" font-family="Liberation Serif" font-weight="bold" font-style="italic" font-size="12.20" fill="#111" stroke="#111" stroke-width="0.35" xml:space="preserve">aus</text>
<text x="0" y="0" transform="translate(554.02,464.40) scale(1.0000,1)" font-family="Liberation Serif" font-weight="bold" font-style="italic" font-size="12.20" fill="#111" stroke="#111" stroke-width="0.35" xml:space="preserve">indica</text>
<text x="0" y="0" transform="translate(607.55,463.47) scale(1.0000,1)" font-family="Liberation Serif" font-weight="bold" font-style="italic" font-size="12.20" fill="#111" stroke="#111" stroke-width="0.35" xml:space="preserve">japonica</text>
<text x="0" y="0" transform="translate(486.92,479.65) scale(1.0800,1)" font-family="Liberation Serif" font-weight="bold" font-style="normal" font-size="12.30" fill="#111" stroke="#111" stroke-width="0.35" xml:space="preserve">(n=76)</text>
<text x="0" y="0" transform="translate(548.35,480.10) scale(1.0800,1)" font-family="Liberation Serif" font-weight="bold" font-style="normal" font-size="12.30" fill="#111" stroke="#111" stroke-width="0.35" xml:space="preserve">(n=155)</text>
<text x="0" y="0" transform="translate(608.70,480.50) scale(1.0800,1)" font-family="Liberation Serif" font-weight="bold" font-style="normal" font-size="12.30" fill="#111" stroke="#111" stroke-width="0.35" xml:space="preserve">(n=155)</text>
<text x="0" y="0" transform="translate(411.28,515.40) scale(0.9553,1)" font-family="Liberation Serif" font-weight="bold" font-style="normal" font-size="19.38" fill="#000" stroke="#000" stroke-width="0.35" xml:space="preserve">F</text>
<polyline points="464.60,527.20 464.60,693.80 683.00,693.80" fill="none" stroke="#5a5a5a" stroke-width="1.5" stroke-linejoin="round"/>
<line x1="459.80" y1="549.40" x2="464.60" y2="549.40" stroke="#505050" stroke-width="1.2"/>
<text x="0" y="0" transform="translate(442.53,553.37) scale(1.0000,1)" font-family="Liberation Serif" font-weight="bold" font-style="normal" font-size="11.90" fill="#111" stroke="#111" stroke-width="0.35" xml:space="preserve">25</text>
<line x1="459.80" y1="588.20" x2="464.60" y2="588.20" stroke="#505050" stroke-width="1.2"/>
<text x="0" y="0" transform="translate(442.53,592.17) scale(1.0000,1)" font-family="Liberation Serif" font-weight="bold" font-style="normal" font-size="11.90" fill="#111" stroke="#111" stroke-width="0.35" xml:space="preserve">20</text>
<line x1="459.80" y1="627.00" x2="464.60" y2="627.00" stroke="#505050" stroke-width="1.2"/>
<text x="0" y="0" transform="translate(442.53,630.91) scale(1.0000,1)" font-family="Liberation Serif" font-weight="bold" font-style="normal" font-size="11.90" fill="#111" stroke="#111" stroke-width="0.35" xml:space="preserve">15</text>
<line x1="459.80" y1="665.80" x2="464.60" y2="665.80" stroke="#505050" stroke-width="1.2"/>
<text x="0" y="0" transform="translate(442.53,669.77) scale(1.0000,1)" font-family="Liberation Serif" font-weight="bold" font-style="normal" font-size="11.90" fill="#111" stroke="#111" stroke-width="0.35" xml:space="preserve">10</text>
<line x1="508.30" y1="693.80" x2="508.30" y2="697.80" stroke="#5a5a5a" stroke-width="1.2"/>
<line x1="574.30" y1="693.80" x2="574.30" y2="697.80" stroke="#5a5a5a" stroke-width="1.2"/>
<line x1="639.80" y1="693.80" x2="639.80" y2="697.80" stroke="#5a5a5a" stroke-width="1.2"/>
<line x1="508.30" y1="543.10" x2="508.30" y2="595.30" stroke="#787878" stroke-width="1.3"/>
<line x1="508.30" y1="630.20" x2="508.30" y2="682.20" stroke="#787878" stroke-width="1.3"/>
<line x1="504.60" y1="543.10" x2="512.00" y2="543.10" stroke="#4a4a4a" stroke-width="1.0"/>
<line x1="504.60" y1="682.20" x2="512.00" y2="682.20" stroke="#4a4a4a" stroke-width="1.0"/>
<rect x="494.70" y="595.30" width="26.60" height="34.90" fill="#fff" stroke="#505050" stroke-width="1.1"/>
<line x1="494.70" y1="609.60" x2="521.30" y2="609.60" stroke="#111" stroke-width="2.2"/>
<line x1="574.40" y1="552.40" x2="574.40" y2="587.10" stroke="#787878" stroke-width="1.3"/>
<line x1="574.40" y1="625.70" x2="574.40" y2="674.80" stroke="#787878" stroke-width="1.3"/>
<line x1="570.70" y1="552.40" x2="578.10" y2="552.40" stroke="#4a4a4a" stroke-width="1.0"/>
<line x1="570.70" y1="674.80" x2="578.10" y2="674.80" stroke="#4a4a4a" stroke-width="1.0"/>
<rect x="560.70" y="587.10" width="27.40" height="38.60" fill="#fff" stroke="#505050" stroke-width="1.1"/>
<line x1="560.70" y1="608.00" x2="588.10" y2="608.00" stroke="#111" stroke-width="2.2"/>
<line x1="640.00" y1="567.20" x2="640.00" y2="601.10" stroke="#787878" stroke-width="1.3"/>
<line x1="640.00" y1="627.40" x2="640.00" y2="665.00" stroke="#787878" stroke-width="1.3"/>
<line x1="636.30" y1="567.20" x2="643.70" y2="567.20" stroke="#4a4a4a" stroke-width="1.0"/>
<line x1="636.30" y1="665.00" x2="643.70" y2="665.00" stroke="#4a4a4a" stroke-width="1.0"/>
<rect x="625.80" y="601.10" width="27.40" height="26.30" fill="#fff" stroke="#505050" stroke-width="1.1"/>
<line x1="625.80" y1="613.90" x2="653.20" y2="613.90" stroke="#111" stroke-width="2.2"/>
<circle cx="640.00" cy="548.00" r="1.55" fill="none" stroke="#4a4a4a" stroke-width="0.9"/>
<circle cx="639.80" cy="560.10" r="1.35" fill="none" stroke="#444" stroke-width="1.0"/>
<circle cx="639.80" cy="563.30" r="1.35" fill="none" stroke="#4a4a4a" stroke-width="0.9"/>
<circle cx="640.00" cy="671.00" r="1.50" fill="none" stroke="#333" stroke-width="1.3"/>
<text x="0" y="0" transform="translate(504.76,538.39) scale(0.9200,1)" font-family="Liberation Serif" font-weight="normal" font-style="normal" font-size="10.60" fill="#111" stroke="#111" stroke-width="0.12" xml:space="preserve">a</text>
<text x="0" y="0" transform="translate(571.26,543.09) scale(0.9200,1)" font-family="Liberation Serif" font-weight="normal" font-style="normal" font-size="10.60" fill="#111" stroke="#111" stroke-width="0.12" xml:space="preserve">a</text>
<text x="0" y="0" transform="translate(636.71,540.89) scale(0.9200,1)" font-family="Liberation Serif" font-weight="normal" font-style="normal" font-size="10.60" fill="#111" stroke="#111" stroke-width="0.12" xml:space="preserve">a</text>
<text x="0" y="0" transform="translate(430.39,564.04) rotate(-90) scale(0.9860,1)" font-family="Liberation Serif" font-weight="bold" font-style="normal" font-size="12.31" fill="#111" stroke="#111" stroke-width="0.35" xml:space="preserve">(mg)</text>
<text x="0" y="0" transform="translate(430.27,664.16) rotate(-90) scale(0.9912,1)" font-family="Liberation Serif" font-weight="bold" font-style="normal" font-size="12.39" fill="#111" stroke="#111" stroke-width="0.35" xml:space="preserve">Shoot dry weight</text>
<text x="0" y="0" transform="translate(498.23,709.41) scale(1.0000,1)" font-family="Liberation Serif" font-weight="bold" font-style="italic" font-size="12.20" fill="#111" stroke="#111" stroke-width="0.35" xml:space="preserve">aus</text>
<text x="0" y="0" transform="translate(563.52,709.25) scale(1.0000,1)" font-family="Liberation Serif" font-weight="bold" font-style="italic" font-size="12.20" fill="#111" stroke="#111" stroke-width="0.35" xml:space="preserve">indica</text>
<text x="0" y="0" transform="translate(625.90,707.12) scale(1.0000,1)" font-family="Liberation Serif" font-weight="bold" font-style="italic" font-size="12.20" fill="#111" stroke="#111" stroke-width="0.35" xml:space="preserve">japonica</text>
<text x="0" y="0" transform="translate(488.27,725.65) scale(1.0800,1)" font-family="Liberation Serif" font-weight="bold" font-style="normal" font-size="12.30" fill="#111" stroke="#111" stroke-width="0.35" xml:space="preserve">(n=78)</text>
<text x="0" y="0" transform="translate(557.35,725.65) scale(1.0800,1)" font-family="Liberation Serif" font-weight="bold" font-style="normal" font-size="12.30" fill="#111" stroke="#111" stroke-width="0.35" xml:space="preserve">(n=152)</text>
<text x="0" y="0" transform="translate(626.75,726.20) scale(1.0800,1)" font-family="Liberation Serif" font-weight="bold" font-style="normal" font-size="12.30" fill="#111" stroke="#111" stroke-width="0.35" xml:space="preserve">(n=151)</text>
</svg>
</body></html>
